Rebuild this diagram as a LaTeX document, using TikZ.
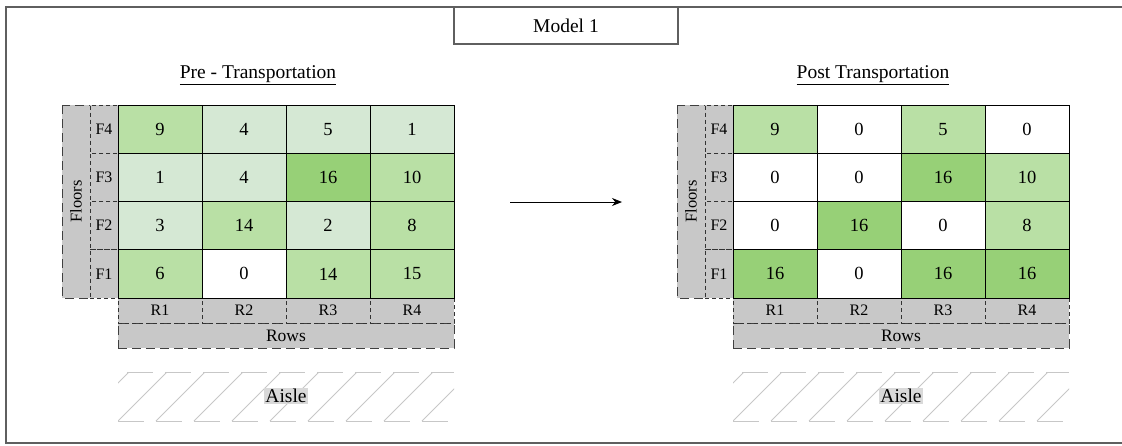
\documentclass[tikz,border=0pt]{standalone}
\usepackage{fontspec}
\setmainfont{Liberation Serif}
\usetikzlibrary{arrows.meta,positioning}
\definecolor{lowgreen}{RGB}{213,232,212}
\definecolor{midgreen}{RGB}{185,224,165}
\definecolor{highgreen}{RGB}{151,208,119}
\definecolor{labelgray}{RGB}{200,200,200}
\definecolor{framegray}{RGB}{95,95,95}

\begin{document}
\begin{tikzpicture}[x=1pt,y=-1pt,
  cell/.style={draw,line width=.9pt,minimum width=84pt,minimum height=48.25pt,inner sep=0pt,font=\fontsize{18.5}{21}\selectfont},
  flab/.style={draw=black!80,fill=labelgray,dash pattern=on 4pt off 3pt,line width=.9pt,minimum width=28pt,minimum height=48.25pt,inner sep=0pt,font=\fontsize{16}{18}\selectfont},
  rlab/.style={draw=black!80,fill=labelgray,dash pattern=on 4pt off 3pt,line width=.9pt,minimum width=84pt,minimum height=25pt,inner sep=0pt,font=\fontsize{16}{18}\selectfont},
  axisbox/.style={draw=black!75,fill=labelgray,dash pattern=on 9pt off 5pt,line width=1pt,inner sep=0pt,font=\fontsize{16.5}{18}\selectfont},
  hatch/.style={black!22,line width=.9pt},
  header/.style={font=\fontsize{19.5}{22}\selectfont}]
\useasboundingbox (0,0) rectangle (1122,445);
% outer frame and title
\draw[framegray,line width=1.5pt] (1135,7) -- (6,7) -- (6,443) -- (1135,443);
\node[draw=framegray,fill=white,line width=1.3pt,minimum width=224pt,minimum height=37pt,header] (title) at (566,25.5) {Model 1};
\node[header] (prehead) at (258,75) {\underline{Pre - Transportation}};
\node[header] (posthead) at (873,75) {\underline{Post Transportation}};

% pre-transportation: axis labels
\node[axisbox,minimum width=193pt,minimum height=28pt,rotate=90] (prefloors) at (76,201.5) {Floors};
\node[flab] (pref4) at (104,129.1) {F4};
\node[flab] (pref3) at (104,177.4) {F3};
\node[flab] (pref2) at (104,225.6) {F2};
\node[flab] (pref1) at (104,273.9) {F1};
\node[axisbox,minimum width=336pt,minimum height=25pt,font=\fontsize{17.5}{19}\selectfont] (prerows) at (286,335.5) {Rows};
\node[rlab] (prer1) at (160,310.5) {R1};
\node[rlab] (prer2) at (244,310.5) {R2};
\node[rlab] (prer3) at (328,310.5) {R3};
\node[rlab] (prer4) at (412,310.5) {R4};
% pre-transportation: grid
\node[cell,fill=midgreen] (pre41) at (160,129.1) {9};
\node[cell,fill=lowgreen] (pre42) at (244,129.1) {4};
\node[cell,fill=lowgreen] (pre43) at (328,129.1) {5};
\node[cell,fill=lowgreen] (pre44) at (412,129.1) {1};
\node[cell,fill=lowgreen] (pre31) at (160,177.4) {1};
\node[cell,fill=lowgreen] (pre32) at (244,177.4) {4};
\node[cell,fill=highgreen] (pre33) at (328,177.4) {16};
\node[cell,fill=midgreen] (pre34) at (412,177.4) {10};
\node[cell,fill=lowgreen] (pre21) at (160,225.6) {3};
\node[cell,fill=midgreen] (pre22) at (244,225.6) {14};
\node[cell,fill=lowgreen] (pre23) at (328,225.6) {2};
\node[cell,fill=midgreen] (pre24) at (412,225.6) {8};
\node[cell,fill=midgreen] (pre11) at (160,273.9) {6};
\node[cell,fill=white] (pre12) at (244,273.9) {0};
\node[cell,fill=midgreen] (pre13) at (328,273.9) {14};
\node[cell,fill=midgreen] (pre14) at (412,273.9) {15};
% pre-transportation: aisle
\begin{scope}
\clip (118,372) rectangle (454,421);
\foreach \hx in {80,118,...,480} \draw[hatch] (\hx,421) -- (\hx+49,372);
\end{scope}
\draw[hatch,dash pattern=on 26pt off 12pt] (127,372) -- (454,372);
\draw[hatch,dash pattern=on 26pt off 12pt] (118,421) -- (454,421);
\node[fill=labelgray!70,inner sep=1pt,header] (preaisle) at (286,396) {Aisle};

% move from pre to post
\coordinate (arrowstart) at (510,202);
\coordinate (arrowend) at (622,202);
\draw[line width=1pt,-{Stealth[length=10pt,width=8pt]}] (arrowstart) -- (arrowend);

% post-transportation: axis labels
\node[axisbox,minimum width=193pt,minimum height=28pt,rotate=90] (postfloors) at (691,201.5) {Floors};
\node[flab] (postf4) at (719,129.1) {F4};
\node[flab] (postf3) at (719,177.4) {F3};
\node[flab] (postf2) at (719,225.6) {F2};
\node[flab] (postf1) at (719,273.9) {F1};
\node[axisbox,minimum width=336pt,minimum height=25pt,font=\fontsize{17.5}{19}\selectfont] (postrows) at (901,335.5) {Rows};
\node[rlab] (postr1) at (775,310.5) {R1};
\node[rlab] (postr2) at (859,310.5) {R2};
\node[rlab] (postr3) at (943,310.5) {R3};
\node[rlab] (postr4) at (1027,310.5) {R4};
% post-transportation: grid
\node[cell,fill=midgreen] (post41) at (775,129.1) {9};
\node[cell,fill=white] (post42) at (859,129.1) {0};
\node[cell,fill=midgreen] (post43) at (943,129.1) {5};
\node[cell,fill=white] (post44) at (1027,129.1) {0};
\node[cell,fill=white] (post31) at (775,177.4) {0};
\node[cell,fill=white] (post32) at (859,177.4) {0};
\node[cell,fill=highgreen] (post33) at (943,177.4) {16};
\node[cell,fill=midgreen] (post34) at (1027,177.4) {10};
\node[cell,fill=white] (post21) at (775,225.6) {0};
\node[cell,fill=highgreen] (post22) at (859,225.6) {16};
\node[cell,fill=white] (post23) at (943,225.6) {0};
\node[cell,fill=midgreen] (post24) at (1027,225.6) {8};
\node[cell,fill=highgreen] (post11) at (775,273.9) {16};
\node[cell,fill=white] (post12) at (859,273.9) {0};
\node[cell,fill=highgreen] (post13) at (943,273.9) {16};
\node[cell,fill=highgreen] (post14) at (1027,273.9) {16};
% post-transportation: aisle
\begin{scope}
\clip (733,372) rectangle (1069,421);
\foreach \hx in {695,733,...,1095} \draw[hatch] (\hx,421) -- (\hx+49,372);
\end{scope}
\draw[hatch,dash pattern=on 26pt off 12pt] (742,372) -- (1069,372);
\draw[hatch,dash pattern=on 26pt off 12pt] (733,421) -- (1069,421);
\node[fill=labelgray!70,inner sep=1pt,header] (postaisle) at (901,396) {Aisle};
\end{tikzpicture}
\end{document}
